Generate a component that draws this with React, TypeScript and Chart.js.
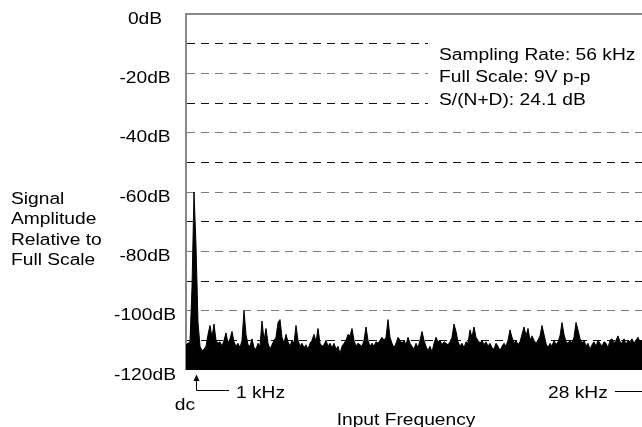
import React, { useEffect, useRef } from "react";
import { Chart, registerables } from "chart.js";

Chart.register(...registerables);

// Spectrum amplitude (dB relative to full scale), one value per frequency bin (dc ... 28 kHz)
const spectrumDb: number[] = [
  -111.5, -111, -110.5, -92, -60, -78, -104, -112, -113.5, -113,
  -112, -108, -105, -109, -104.5, -110, -111, -110.5, -112, -110,
  -107.5, -111, -109.5, -107, -110.5, -112, -111, -112.5, -110, -100,
  -108, -111.5, -112, -109.5, -112.5, -113, -111, -112, -103.5, -110,
  -106, -111, -113, -111.5, -110, -109, -104, -103, -109, -111,
  -108, -110.5, -112, -110, -111, -105, -110, -112, -111, -112.5,
  -111.5, -113, -111, -110, -108, -110.5, -106, -111, -112, -111.5,
  -110, -112, -111, -112.5, -111, -113, -112, -114.5, -112, -111,
  -110, -108, -108.5, -106, -110, -112, -111, -111.5, -112, -110,
  -105.5, -110, -112, -111, -112, -110.5, -111, -110, -109, -110,
  -109, -103, -109, -111, -112.5, -111, -109, -110, -111, -110,
  -111.5, -109, -111, -112, -113, -111, -112.5, -110, -107, -110,
  -112, -113.5, -112, -114, -111, -109, -110.5, -110, -111.5, -110.5,
  -111, -111.5, -110.5, -109, -104.5, -107, -110.5, -112, -111, -112.5,
  -110.5, -111, -106.5, -109, -105.5, -109, -110, -111, -110, -111.5,
  -110.5, -112, -111, -112.5, -113, -111, -112, -113.5, -112, -111,
  -112, -110, -106.5, -109, -111, -110, -111.5, -110.5, -108, -105.5,
  -108.5, -106, -110, -108.5, -110, -111, -110, -108.5, -105, -108,
  -111, -112.5, -111, -112, -110, -111.5, -110.5, -108.5, -104, -108,
  -110.5, -111, -110, -111, -109, -104, -106.5, -109.5, -111, -110,
  -112, -111, -113, -111.5, -110.5, -112, -110, -111, -112, -110.5,
  -111, -112.5, -110, -109.5, -111, -110, -108.5, -110.5, -111, -109.5,
  -111.5, -110, -110.5, -109.5, -111, -110, -109, -110.5, -110,
];

const yTickValues: number[] = [0, -20, -40, -60, -80, -100, -120];
const yTitleLines: string[] = ["Signal", "Amplitude", "Relative to", "Full Scale"];
const infoLines: string[] = ["Sampling Rate: 56 kHz", "Full Scale: 9V p-p", "S/(N+D): 24.1 dB"];
const xTitle = "Input Frequency";
const dcLabel = "dc";
const signalLabel = "1 kHz";
const nyquistLabel = "28 kHz";

const FONT = '16px "Liberation Sans", Arial, sans-serif';
const SX = 1.2;

function drawText(ctx: CanvasRenderingContext2D, text: string, x: number, y: number, align: CanvasTextAlign) {
  ctx.save();
  ctx.translate(x, y);
  ctx.scale(SX, 1);
  ctx.font = FONT;
  ctx.fillStyle = "#000";
  ctx.textAlign = align;
  ctx.textBaseline = "alphabetic";
  ctx.fillText(text, 0, 0);
  ctx.restore();
}

const annotationPlugin = {
  id: "annotations",
  afterDraw(chart: any) {
    const ctx: CanvasRenderingContext2D = chart.ctx;
    const yScale = chart.scales.y;
    // white box behind info text
    ctx.save();
    ctx.fillStyle = "#fff";
    ctx.fillRect(428, 36, 214, 76);
    ctx.restore();

    // y tick labels
    yTickValues.forEach((v) => {
      const py = yScale.getPixelForValue(v);
      drawText(ctx, `${v}dB`, 145, py + 9.5, "center");
    });
    // y title
    yTitleLines.forEach((t, i) => drawText(ctx, t, 11, 203.5 + i * 20.6, "left"));
    // info text
    infoLines.forEach((t, i) => drawText(ctx, t, 439, 59.5 + i * 22.5, "left"));

    // dc / 1 kHz arrow
    ctx.save();
    ctx.strokeStyle = "#000";
    ctx.fillStyle = "#000";
    ctx.lineWidth = 1;
    ctx.beginPath();
    ctx.moveTo(196.5, 379);
    ctx.lineTo(196.5, 390.5);
    ctx.lineTo(229, 390.5);
    ctx.stroke();
    ctx.beginPath();
    ctx.moveTo(196.5, 374.5);
    ctx.lineTo(193.5, 381);
    ctx.lineTo(199.5, 381);
    ctx.closePath();
    ctx.fill();
    // 28 kHz leader
    ctx.beginPath();
    ctx.moveTo(615, 391.5);
    ctx.lineTo(642, 391.5);
    ctx.stroke();
    ctx.restore();

    drawText(ctx, signalLabel, 236, 398, "left");
    drawText(ctx, dcLabel, 185, 410, "center");
    drawText(ctx, nyquistLabel, 548, 398, "left");
    drawText(ctx, xTitle, 406, 425, "center");
  },
};

export default function App() {
  const ref = useRef<HTMLCanvasElement | null>(null);
  useEffect(() => {
    if (!ref.current) return;
    const points = spectrumDb.map((v, i) => ({ x: i, y: v }));
    const chart = new Chart(ref.current, {
      type: "line",
      data: {
        datasets: [
          {
            data: points,
            borderColor: "#000",
            backgroundColor: "#000",
            borderWidth: 1,
            pointRadius: 0,
            fill: "start",
            tension: 0,
          },
        ],
      },
      options: {
        animation: false,
        responsive: false,
        devicePixelRatio: 1,
        layout: { padding: { left: 186, top: 14, right: 0, bottom: 57 } },
        plugins: { legend: { display: false }, tooltip: { enabled: false } },
        scales: {
          x: { type: "linear", min: 0, max: spectrumDb.length - 1, display: false },
          xTop: {
            type: "linear",
            position: "top",
            min: 0,
            max: spectrumDb.length - 1,
            display: true,
            ticks: { display: false },
            grid: { display: false, drawTicks: false },
            border: { display: true, color: "#888", width: 2 },
          },
          y: {
            min: -120,
            max: 0,
            ticks: { display: false, stepSize: 10 },
            grid: {
              drawTicks: false,
              color: (c: any) => (Math.round(c.tick.value / 10) % 2 === 0 ? "#7a7a7a" : "#111"),
              lineWidth: (c: any) => (c.tick.value === 0 || c.tick.value === -120 ? 0 : 1),
            },
            border: { display: true, color: "#888", width: 2, dash: [8, 6] },
          },
        },
      } as any,
      plugins: [annotationPlugin],
    });
    return () => chart.destroy();
  }, []);
  return (
    <div style={{ position: "absolute", left: 0, top: 0, width: 642, height: 427, background: "#fff" }}>
      <canvas ref={ref} width={642} height={427} style={{ display: "block" }} />
    </div>
  );
}
